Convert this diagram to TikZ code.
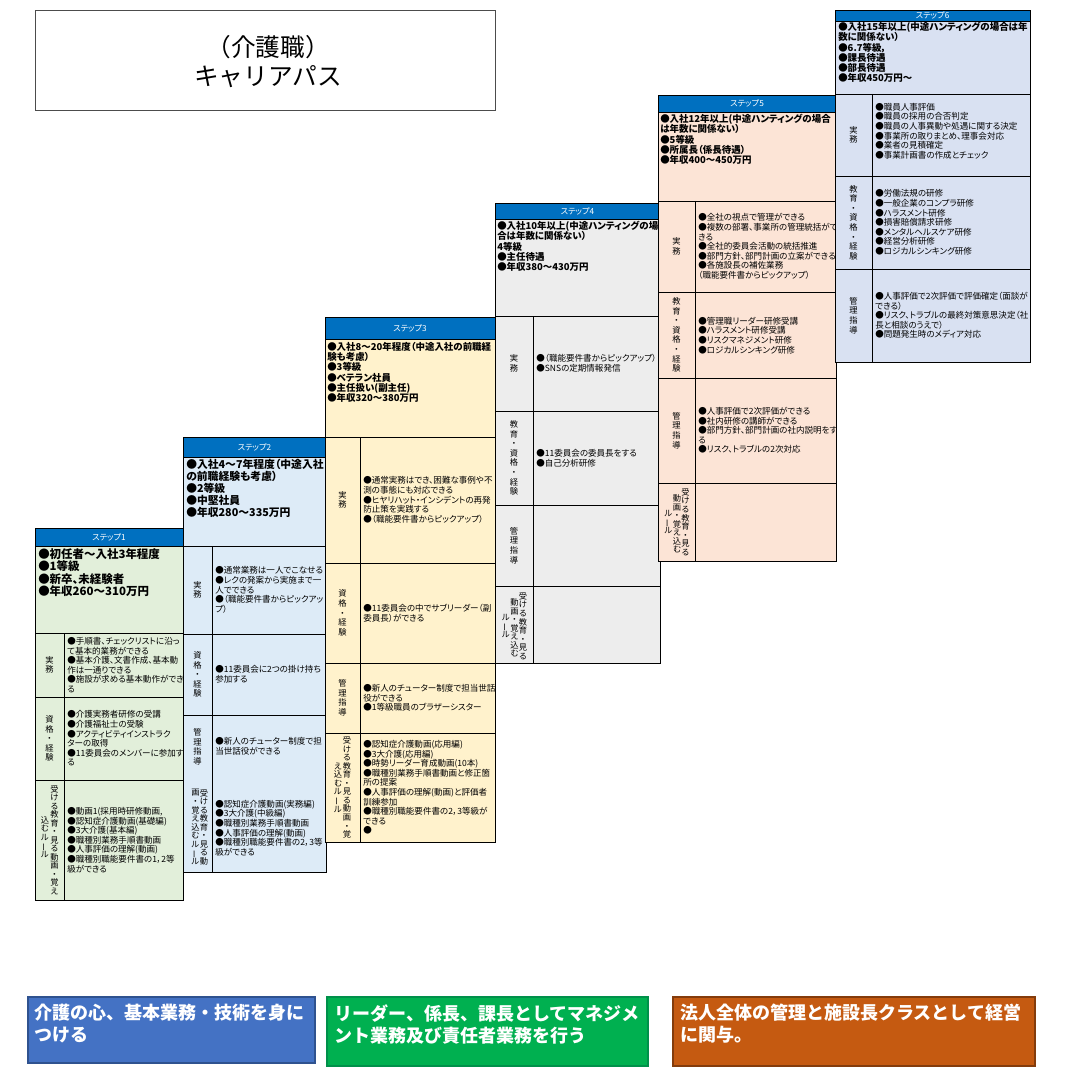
\documentclass[tikz,border=0pt]{standalone}
\usepackage{fontspec}
\setmainfont{Noto Sans CJK JP}[RawFeature=+palt]
\newfontfamily\jpfull{Noto Sans CJK JP}
\definecolor{hdrblue}{HTML}{0070C0}
\definecolor{c1}{HTML}{E2EFDA}
\definecolor{c2}{HTML}{DDEBF7}
\definecolor{c3}{HTML}{FFF2CC}
\definecolor{c4}{HTML}{EDEDED}
\definecolor{c5}{HTML}{FCE4D6}
\definecolor{c6}{HTML}{D9E1F2}
\definecolor{b1}{HTML}{4472C4}
\definecolor{b1d}{HTML}{2F528F}
\definecolor{b2}{HTML}{00B050}
\definecolor{b2d}{HTML}{00904A}
\definecolor{b3}{HTML}{C55A11}
\definecolor{b3d}{HTML}{843C0C}
\newcommand\vbar{\rotatebox[origin=c]{90}{ー}}
\begin{document}
\begin{tikzpicture}[x=0.75pt,y=-0.75pt,
 bd/.style={draw=black,line width=0.7pt},
 hdrtxt/.style={text=white,inner sep=0,font=\fontsize{6.2}{7}\selectfont},
 sumA/.style={anchor=north west,align=left,inner sep=0,font=\bfseries\fontsize{8.6}{9.4}\selectfont},
 sumB/.style={anchor=north west,align=left,inner sep=0,font=\bfseries\fontsize{8.1}{9}\selectfont},
 sumC/.style={anchor=north west,align=left,inner sep=0,font=\bfseries\fontsize{7.1}{7.7}\selectfont},
 body/.style={anchor=west,align=left,inner sep=0,font=\fontsize{6.4}{7.2}\selectfont},
 vlab/.style={align=center,inner sep=0,font=\fontsize{6.2}{7.2}\selectfont},
 vcol/.style={align=center,inner sep=0,font=\fontsize{6.2}{6.4}\selectfont},
 big/.style={anchor=north west,align=left,inner sep=0,text=white,font=\jpfull\bfseries\fontsize{13.5}{16.5}\selectfont}
]
\useasboundingbox (0,0) rectangle (1066,1080);
\fill[white] (0,0) rectangle (1066,1080);

% title
\draw[line width=0.5pt,draw=black!70] (35,10) rectangle (495,110);
\node[font=\jpfull\fontsize{18.5}{21.75}\selectfont,align=center,inner sep=0] (title) at (268,62) {（介護職）\\キャリアパス};

% ---------- Step 1
\fill[c1] (35,528) rectangle (183,900);
\fill[hdrblue] (35,528) rectangle (183,546);
\foreach \y in {546,633,697,780} \draw[bd] (35,\y) -- (183,\y);
\draw[bd] (64,633) -- (64,900);
\draw[bd] (35,528) rectangle (183,900);
\node[hdrtxt] (s1h) at (109,537) {ステップ1};
\node[sumA] (s1s) at (38,548) {●初任者～入社3年程度\\●1等級\\●新卒、未経験者\\●年収260～310万円};
\node[vlab] (s1a) at (49.5,665) {実\\務};
\node[body] (s1b) at (67,665) {●手順書、チェックリストに沿っ\\て基本的業務ができる\\●基本介護、文書作成、基本動\\作は一通りできる\\●施設が求める基本動作ができ\\る};
\node[vlab] (s1c) at (49.5,738.5) {資\\格\\・\\経\\験};
\node[body] (s1d) at (67,738.5) {●介護実務者研修の受講\\●介護福祉士の受験\\●アクティビティインストラク\\ターの取得\\●11委員会のメンバーに参加す\\る};
\node[vcol] (s1e) at (54.5,840) {受\\け\\る\\教\\育\\・\\見\\る\\動\\画\\・\\覚\\え};
\node[vcol] (s1f) at (45,837) {込\\む\\ル\\\vbar\\ル};
\node[body] (s1g) at (67,840) {●動画1(採用時研修動画,\\●認知症介護動画(基礎編)\\●3大介護(基本編)\\●職種別業務手順書動画\\●人事評価の理解(動画)\\●職種別職能要件書の1，2等\\級ができる};

% ---------- Step 2
\fill[c2] (183,437) rectangle (326,872);
\fill[hdrblue] (183,437) rectangle (326,457);
\foreach \y in {457,546,634,715} \draw[bd] (183,\y) -- (326,\y);
\draw[bd] (212,546) -- (212,872);
\draw[bd] (183,437) rectangle (326,872);
\node[hdrtxt] (s2h) at (254.5,447) {ステップ2};
\node[sumB] (s2s) at (186,459) {●入社4～7年程度（中途入社\\の前職経験も考慮）\\●2等級\\●中堅社員\\●年収280～335万円};
\node[vlab] (s2a) at (197.5,590) {実\\務};
\node[body] (s2b) at (215,590) {●通常業務は一人でこなせる\\●レクの発案から実施まで一\\人でできる\\●（職能要件書からピックアッ\\プ）};
\node[vlab] (s2c) at (197.5,674.5) {資\\格\\・\\経\\験};
\node[body] (s2d) at (215,674.5) {●11委員会に2つの掛け持ち\\参加する};
\node[vlab] (s2e) at (197.5,747) {管\\理\\指\\導};
\node[body] (s2f) at (215,746) {●新人のチューター制度で担\\当世話役ができる};
\node[vcol] (s2g) at (204,827) {受\\け\\る\\教\\育\\・\\見\\る\\動};
\node[vcol] (s2i) at (195.5,827) {画\\・\\覚\\え\\込\\む\\ル\\\vbar\\ル};
\node[body] (s2j) at (215,828) {●認知症介護動画(実務編)\\●3大介護(中級編)\\●職種別業務手順書動画\\●人事評価の理解(動画)\\●職種別職能要件書の2，3等\\級ができる};

% ---------- Step 3
\fill[c3] (325,317) rectangle (495,842);
\fill[hdrblue] (325,317) rectangle (495,339);
\foreach \y in {339,437,563,663,733} \draw[bd] (325,\y) -- (495,\y);
\draw[bd] (360,437) -- (360,842);
\draw[bd] (325,317) rectangle (495,842);
\node[hdrtxt] (s3h) at (410,328) {ステップ3};
\node[sumC] (s3s) at (327,342) {●入社8～20年程度（中途入社の前職経\\験も考慮）\\●3等級\\●ベテラン社員\\●主任扱い(副主任)\\●年収320～380万円};
\node[vlab] (s3a) at (342.5,500) {実\\務};
\node[body] (s3b) at (363,500) {●通常実務はでき、困難な事例や不\\測の事態にも対応できる\\●ヒヤリハット・インシデントの再発\\防止策を実践する\\●（職能要件書からピックアップ）};
\node[vlab] (s3c) at (342.5,613) {資\\格\\・\\経\\験};
\node[body] (s3d) at (363,613) {●11委員会の中でサブリーダー（副\\委員長）ができる};
\node[vlab] (s3e) at (342.5,698) {管\\理\\指\\導};
\node[body] (s3f) at (363,698) {●新人のチューター制度で担当世話\\役ができる\\●1等級職員のブラザーシスター};
\node[vcol] (s3g) at (347,787.5) {受\\け\\る\\教\\育\\・\\見\\る\\動\\画\\・\\覚};
\node[vcol] (s3i) at (338,787.5) {え\\込\\む\\ル\\\vbar\\ル};
\node[body] (s3j) at (363,787.5) {●認知症介護動画(応用編)\\●3大介護(応用編)\\●時勢リーダー育成動画(10本)\\●職種別業務手順書動画と修正箇\\所の提案\\●人事評価の理解(動画)と評価者\\訓練参加\\●職種別職能要件書の2，3等級が\\できる\\●};

% ---------- Step 4
\fill[c4] (495,203) rectangle (660,663);
\fill[hdrblue] (495,203) rectangle (660,219);
\foreach \y in {219,316,411,505,586} \draw[bd] (495,\y) -- (660,\y);
\draw[bd] (533,316) -- (533,663);
\draw[bd] (495,203) rectangle (660,663);
\node[hdrtxt] (s4h) at (577.5,211) {ステップ4};
\node[sumC] (s4s) at (497,221) {●入社10年以上(中途ハンティングの場\\合は年数に関係ない）\\4等級\\●主任待遇\\●年収380～430万円};
\node[vlab] (s4a) at (514,363.5) {実\\務};
\node[body] (s4b) at (536,363.5) {●（職能要件書からピックアップ）\\●SNSの定期情報発信};
\node[vlab] (s4c) at (514,458) {教\\育\\・\\資\\格\\・\\経\\験};
\node[body] (s4d) at (536,458) {●11委員会の委員長をする\\●自己分析研修};
\node[vlab] (s4e) at (514,545.5) {管\\理\\指\\導};
\node[vcol] (s4g) at (523,626) {受\\け\\る\\教\\育\\・\\見\\る};
\node[vcol] (s4i) at (514.5,628) {動\\画\\・\\覚\\え\\込\\む};
\node[vcol] (s4j) at (506,626) {ル\\\vbar\\ル};

% ---------- Step 5
\fill[c5] (658,95) rectangle (836,561);
\fill[hdrblue] (658,95) rectangle (836,112);
\foreach \y in {112,201,292,378,483} \draw[bd] (658,\y) -- (836,\y);
\draw[bd] (695,201) -- (695,561);
\draw[bd] (658,95) rectangle (836,561);
\node[hdrtxt] (s5h) at (747,103.5) {ステップ5};
\node[sumC] (s5s) at (660,114) {●入社12年以上(中途ハンティングの場合\\は年数に関係ない）\\●5等級\\●所属長（係長待遇）\\●年収400～450万円};
\node[vlab] (s5a) at (676.5,246.5) {実\\務};
\node[body] (s5b) at (698,246.5) {●全社の視点で管理ができる\\●複数の部署、事業所の管理統括がで\\きる\\●全社的委員会活動の統括推進\\●部門方針、部門計画の立案ができる\\●各施設長の補佐業務\\（職能要件書からピックアップ）};
\node[vlab] (s5c) at (676.5,335) {教\\育\\・\\資\\格\\・\\経\\験};
\node[body] (s5d) at (698,335.5) {●管理職リーダー研修受講\\●ハラスメント研修受講\\●リスクマネジメント研修\\●ロジカルシンキング研修};
\node[vlab] (s5e) at (676.5,430.5) {管\\理\\指\\導};
\node[body] (s5f) at (698,430.5) {●人事評価で2次評価ができる\\●社内研修の講師ができる\\●部門方針、部門計画の社内説明をす\\る\\●リスク、トラブルの2次対応};
\node[vcol] (s5g) at (685.5,522) {受\\け\\る\\教\\育\\・\\見\\る};
\node[vcol] (s5i) at (677,524) {動\\画\\・\\覚\\え\\込\\む};
\node[vcol] (s5j) at (668.5,522) {ル\\\vbar\\ル};

% ---------- Step 6
\fill[c6] (835,10) rectangle (1030,362);
\fill[hdrblue] (835,10) rectangle (1030,21);
\foreach \y in {21,94,176,269} \draw[bd] (835,\y) -- (1030,\y);
\draw[bd] (872,94) -- (872,362);
\draw[bd] (835,10) rectangle (1030,362);
\node[hdrtxt] (s6h) at (932.5,15.5) {ステップ6};
\node[sumC] (s6s) at (838,22) {●入社15年以上(中途ハンティングの場合は年\\数に関係ない）\\●6.7等級，\\●課長待遇\\●部長待遇\\●年収450万円～};
\node[vlab] (s6a) at (853.5,135) {実\\務};
\node[body] (s6b) at (875,131) {●職員人事評価\\●職員の採用の合否判定\\●職員の人事異動や処遇に関する決定\\●事業所の取りまとめ、理事会対応\\●業者の見積確定\\●事業計画書の作成とチェック};
\node[vlab] (s6c) at (853.5,222.5) {教\\育\\・\\資\\格\\・\\経\\験};
\node[body] (s6d) at (875,222.5) {●労働法規の研修\\●一般企業のコンプラ研修\\●ハラスメント研修\\●損害賠償請求研修\\●メンタルヘルスケア研修\\●経営分析研修\\●ロジカルシンキング研修};
\node[vlab] (s6e) at (853.5,315.5) {管\\理\\指\\導};
\node[body] (s6f) at (875,315.5) {●人事評価で2次評価で評価確定（面談が\\できる）\\●リスク、トラブルの最終対策意思決定（社\\長と相談のうえで）\\●問題発生時のメディア対応};

% ---------- bottom boxes
\draw[fill=b1,draw=b1d,line width=0.8pt] (28,997) rectangle (315,1063);
\node[big] (m1) at (34,1004) {介護の心、基本業務・技術を身に\\つける};
\draw[fill=b2,draw=b2d,line width=0.8pt] (327,997) rectangle (648,1066);
\node[big] (m2) at (334,1004) {リーダー、係長、課長としてマネジメ\\ント業務及び責任者業務を行う};
\draw[fill=b3,draw=b3d,line width=0.8pt] (673,997) rectangle (1035,1066);
\node[big] (m3) at (680,1004) {法人全体の管理と施設長クラスとして経営\\に関与。};
\end{tikzpicture}
\end{document}
